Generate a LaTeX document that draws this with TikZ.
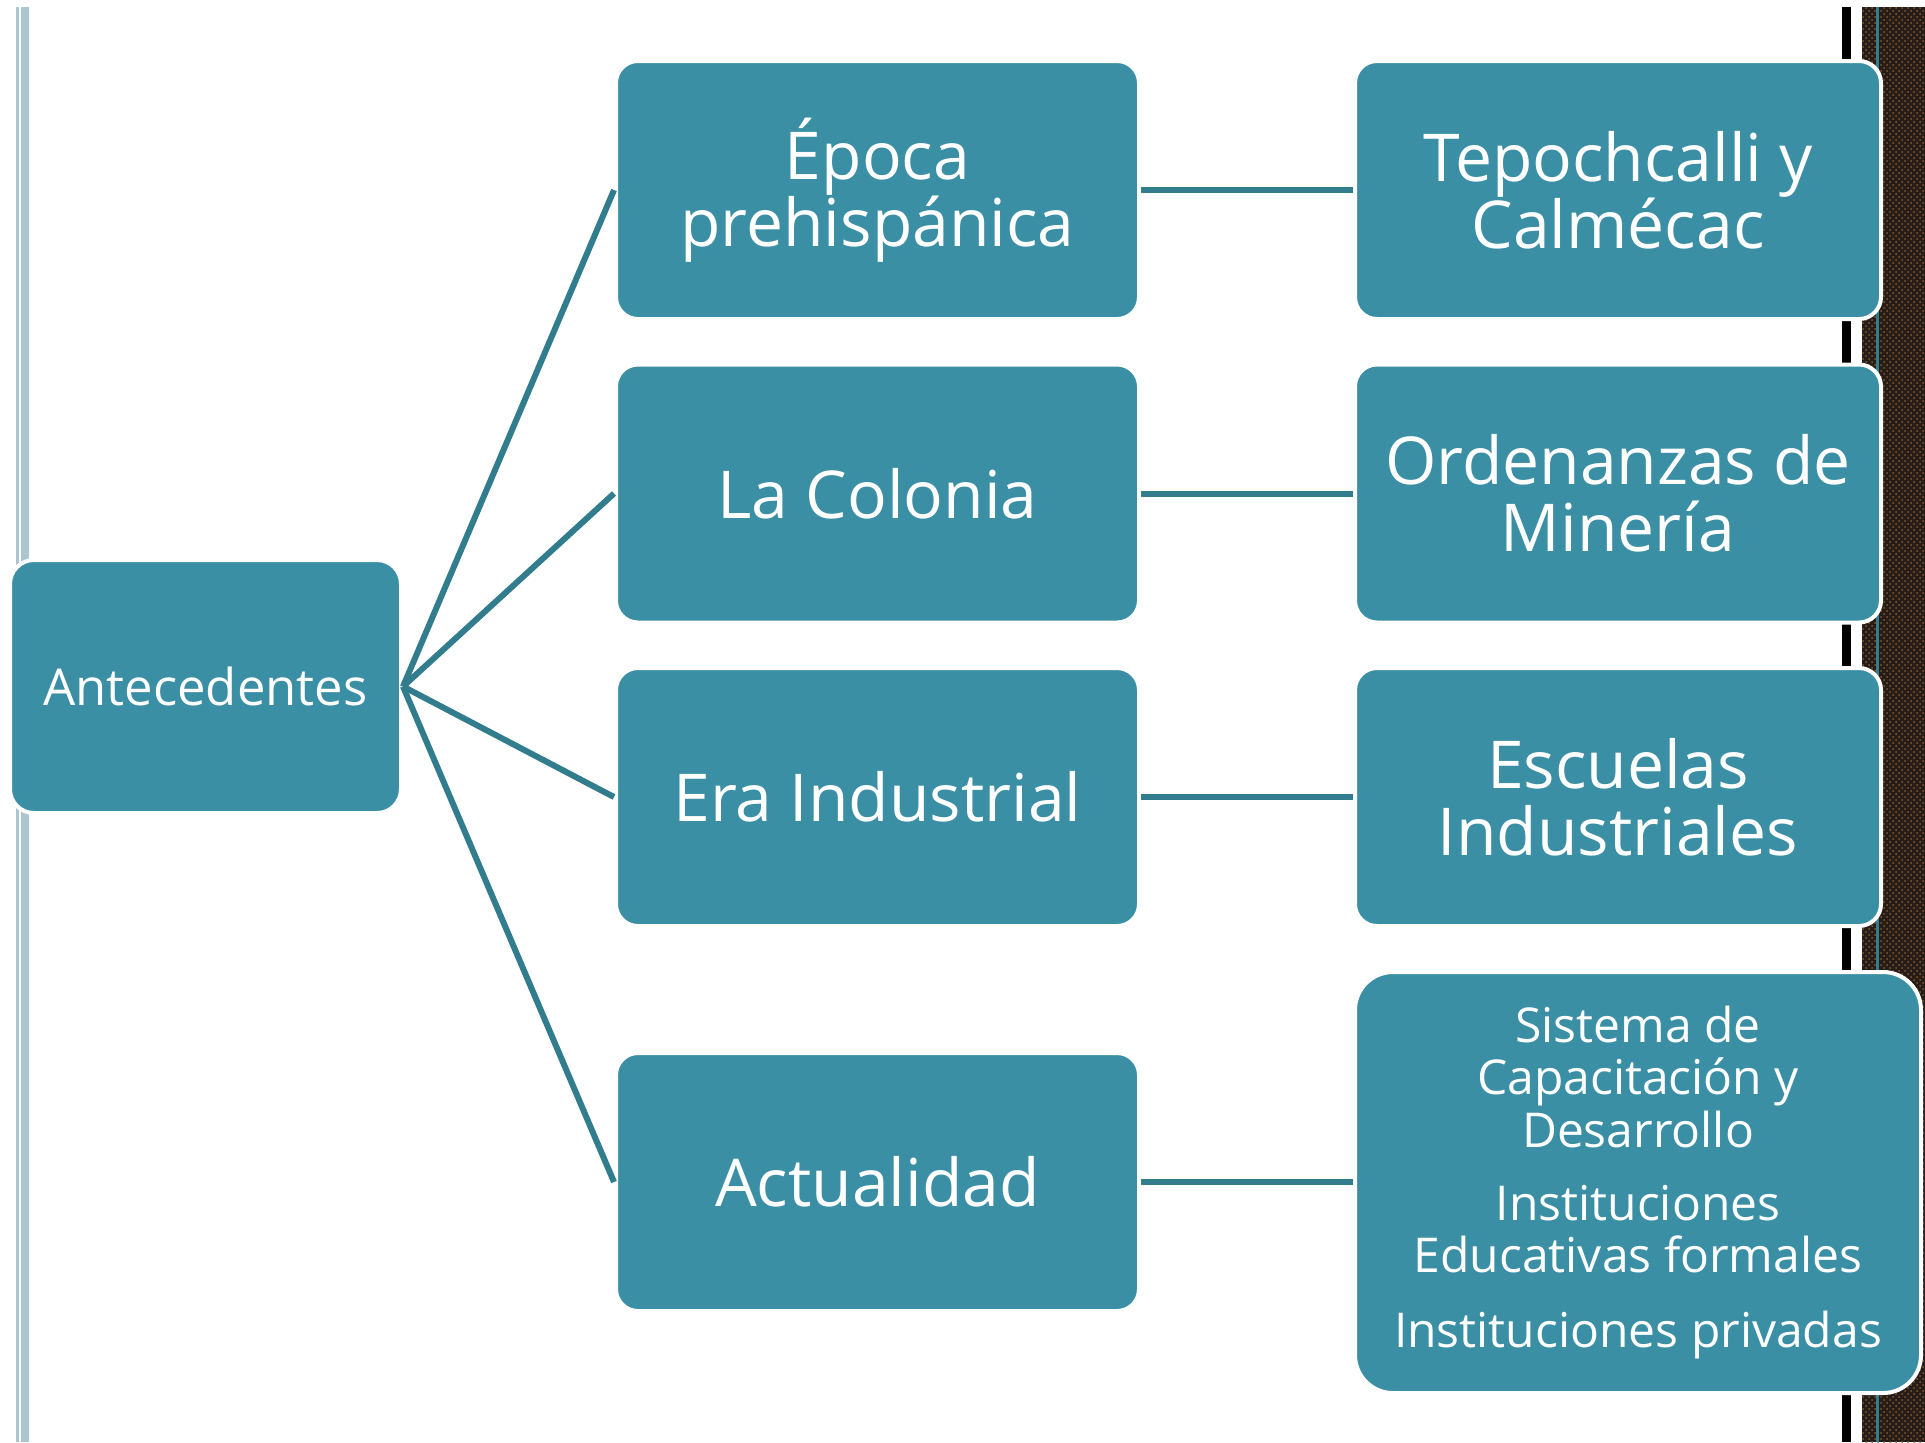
\documentclass[tikz,border=0pt]{standalone}
\usepackage{fontspec}
\setmainfont{Open Sans}
\usetikzlibrary{patterns}
\definecolor{boxteal}{RGB}{58,143,165}
\definecolor{linkteal}{RGB}{49,124,141}
\definecolor{rulegrey}{RGB}{172,198,208}
\definecolor{darkbrown}{RGB}{38,28,24}

\begin{document}
\begin{tikzpicture}[x=0.5pt, y=-0.5pt,
    box/.style={draw=white, line width=2pt, fill=boxteal, rounded corners=11pt,
      text=white, align=center, inner sep=0pt,
      minimum width=261.5pt, minimum height=129pt,
      font=\fontsize{33}{33.5}\selectfont},
    link/.style={draw=linkteal, line width=3pt}]
%      \draw [help lines, opacity=0.5] (0,0) grid[step=100] (1925,1442);
      \useasboundingbox (0,0) rectangle (1925,1442);

      % side rules
      \fill [rulegrey] (16,7) rectangle (19,1442);
      \fill [rulegrey] (21,7) rectangle (29,1442);
      \fill [black] (1842,7) rectangle (1851,1442);
      \fill [darkbrown] (1862,7) rectangle (1925,1442);
      \fill [pattern=crosshatch dots, pattern color=brown!70!black] (1862,7) rectangle (1925,1442);
      \fill [linkteal] (1876,7) rectangle (1879,1442);

      \node [box, minimum width=195.5pt, minimum height=126.5pt, rounded corners=12pt,
        font=\fontsize{25.4}{28}\selectfont] (ante) at (205.5,686.5) {Antecedentes};

      \node [box] (epoca)   at (877.5,190)   {Época\\prehispánica};
      \node [box] (colonia) at (877.5,493.5) {La Colonia};
      \node [box] (era)     at (877.5,797)   {Era Industrial};
      \node [box] (actual)  at (877.5,1182)  {Actualidad};

      \node [box, minimum width=263pt] (tepoch) at (1618,190)   {Tepochcalli y\\Calmécac};
      \node [box, minimum width=263pt] (orden)  at (1618,493.5) {Ordenanzas de\\Minería};
      \node [box, minimum width=263pt] (escue)  at (1618,797)   {Escuelas\\Industriales};
      \node [box, minimum width=283pt, minimum height=210.5pt, rounded corners=19pt,
        font=\fontsize{24}{26}\selectfont] (sistema) at (1638,1182.5)
        {Sistema de\\Capacitación y\\Desarrollo\\[11pt]
         Instituciones\\Educativas formales\\[11pt]
         Instituciones privadas};

      \foreach \r in {epoca, colonia, era, actual} \draw [link] (ante.east) -- (\r.west);
      \foreach \a/\b in {epoca/tepoch, colonia/orden, era/escue, actual/sistema}
        \draw [link] (\a.east) -- (\b.west |- \a.east);
\end{tikzpicture}
\end{document}
